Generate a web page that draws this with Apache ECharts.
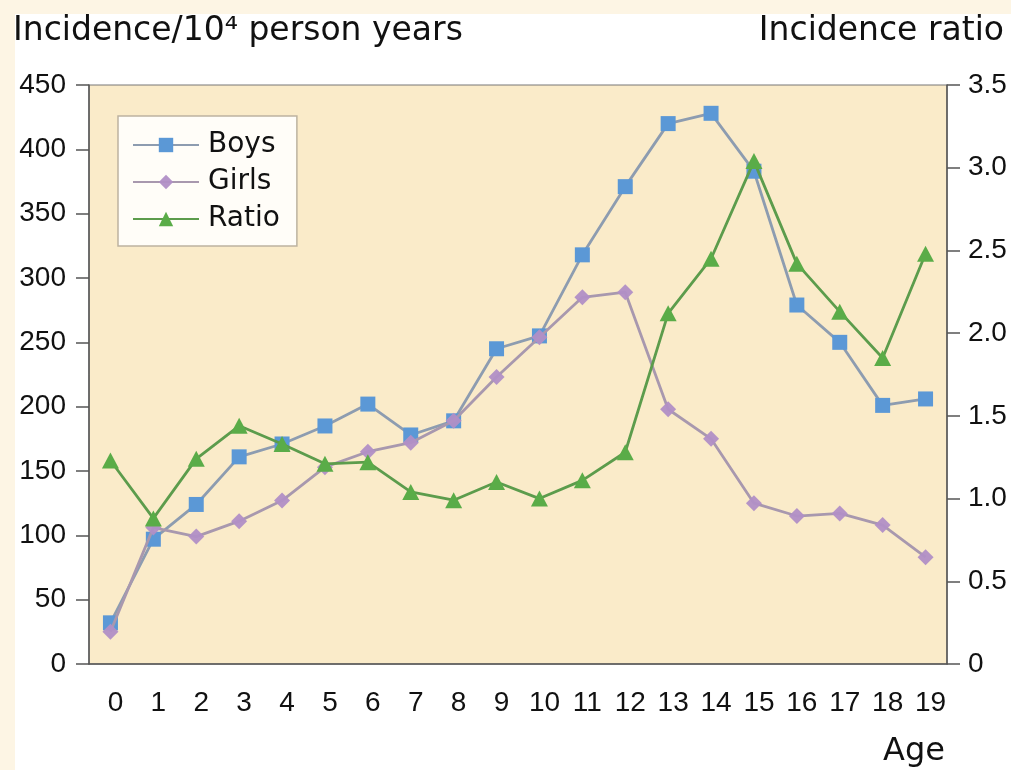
<!DOCTYPE html>
<html><head><meta charset="utf-8">
<script src="https://cdn.jsdelivr.net/npm/echarts@6/dist/echarts.min.js"></script>
<style>html,body{margin:0;padding:0;background:#fdf5e4}#chart{width:1011px;height:770px}</style>
</head><body><div id="chart"></div>
<script>
const ages = ['0','1','2','3','4','5','6','7','8','9','10','11','12','13','14','15','16','17','18','19'];
const boys = [32, 97, 124, 161, 171, 185, 202, 178, 189, 245, 255, 318, 371, 420, 428, 383, 279, 250, 201, 206];
const girls = [25, 106, 99, 111, 127, 153, 165, 172, 189, 223, 254, 285, 289, 198, 175, 125, 115, 117, 108, 83];
const ratio = [1.23, 0.88, 1.24, 1.44, 1.33, 1.21, 1.22, 1.04, 0.99, 1.10, 1.00, 1.11, 1.28, 2.12, 2.45, 3.04, 2.42, 2.13, 1.85, 2.48];
const rightTickLabels = ['0','0.5','1.0','1.5','2.0','2.5','3.0','3.5'];
const leftTitle = 'Incidence/10\u2074 person years';
const rightTitle = 'Incidence ratio';
const xTitle = 'Age';

const chart = echarts.init(document.getElementById('chart'));
const numFont = 'Liberation Sans';
const wordFont = 'DejaVu Sans';
const axisCol = '#555';
const txtCol = '#111';
chart.setOption({
  backgroundColor: '#fdf5e4',
  animation: false,
  graphic: [
    {type:'rect', shape:{x:15,y:14,width:996,height:756}, style:{fill:'#ffffff'}, z:-10},
    {type:'text', x:13, y:31, style:{text:leftTitle, font:'33px "DejaVu Sans"', fill:txtCol, textAlign:'left', verticalAlign:'middle', textVerticalAlign:'middle'}},
    {type:'text', x:1004, y:31, style:{text:rightTitle, font:'33px "DejaVu Sans"', fill:txtCol, textAlign:'right', verticalAlign:'middle', textVerticalAlign:'middle'}},
    {type:'text', x:945, y:752, style:{text:xTitle, font:'32px "DejaVu Sans"', fill:txtCol, textAlign:'right', verticalAlign:'middle', textVerticalAlign:'middle'}}
  ],
  grid: {left:89, right:64, top:85, bottom:106, show:true, backgroundColor:'#faebc9', borderColor:'#777', borderWidth:1},
  legend: {
    left:118, top:116, orient:'vertical',
    backgroundColor:'#fffdf8', borderColor:'#bdb3a0', borderWidth:1.5,
    padding:[15,17,13,14], itemWidth:66, itemHeight:18, itemGap:9,
    textStyle:{fontFamily:wordFont, fontSize:28, color:txtCol, padding:[0,0,0,4]},
    data:['Boys','Girls','Ratio']
  },
  xAxis: {
    type:'category', data:ages, boundaryGap:true,
    axisLine:{lineStyle:{color:axisCol, width:1.5}},
    axisTick:{length:12, lineStyle:{color:axisCol, width:1.5}, alignWithLabel:false},
    axisLabel:{fontFamily:numFont, fontSize:28, color:txtCol, margin:25, interval:0, padding:[0,0,0,10]}
  },
  yAxis: [
    {type:'value', min:0, max:450, interval:50, position:'left',
     axisLine:{show:true, lineStyle:{color:axisCol, width:1.5}},
     axisTick:{show:true, length:13, lineStyle:{color:axisCol, width:1.5}},
     splitLine:{show:false},
     axisLabel:{fontFamily:numFont, fontSize:28, color:txtCol, margin:23}},
    {type:'value', min:0, max:3.5, interval:0.5, position:'right',
     axisLine:{show:true, lineStyle:{color:axisCol, width:1.5}},
     axisTick:{show:true, length:13, lineStyle:{color:axisCol, width:1.5}},
     splitLine:{show:false},
     axisLabel:{fontFamily:numFont, fontSize:28, color:txtCol, margin:21,
       formatter: v => rightTickLabels[Math.round(v/0.5)]}}
  ],
  series: [
    {name:'Boys', type:'line', data:boys, yAxisIndex:0, symbol:'rect', symbolSize:15, z:2,
     lineStyle:{color:'#8d9cb0', width:2.8}, itemStyle:{color:'#5b98d6'}},
    {name:'Girls', type:'line', data:girls, yAxisIndex:0, symbol:'diamond', symbolSize:16, z:3,
     lineStyle:{color:'#a898ae', width:2.8}, itemStyle:{color:'#b18fc6', opacity:0.95}},
    {name:'Ratio', type:'line', data:ratio, yAxisIndex:1, symbol:'triangle', symbolSize:[17,16], z:4,
     lineStyle:{color:'#5c9c4c', width:2.8}, itemStyle:{color:'#5aac48'}}
  ]
});
</script></body></html>
